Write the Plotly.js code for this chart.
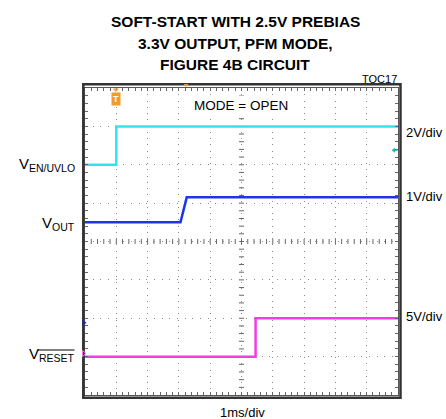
<!DOCTYPE html>
<html>
<head>
<meta charset="utf-8">
<script src="https://cdn.plot.ly/plotly-3.0.1.min.js"></script>
<style>html,body{margin:0;padding:0;background:#fff;}#chart{width:446px;height:419px;}</style>
</head>
<body>
<div id="chart"></div>
<script>
// ---- data (time in ms, levels in volts) ----
const time_en  = [0, 1.0, 1.0, 10];
const v_en     = [0, 0, 2, 2];
const time_out = [0, 3.05, 3.25, 10];
const v_out    = [2.5, 2.5, 3.15, 3.15];
const time_rst = [0, 5.45, 5.45, 10];
const v_rst    = [0, 0, 5, 5];
const channel_labels = ['V<sub>EN/UVLO</sub>', 'V<sub>OUT</sub>', 'V<sub>RESET</sub>'];
const scale_labels   = ['2V/div', '1V/div', '5V/div'];
const volts_per_div  = [2, 1, 5];
const ground_div     = [2, -2, -3];   // channel ground position (divisions from centre)
const title_lines = ['SOFT-START WITH 2.5V PREBIAS', '3.3V OUTPUT, PFM MODE,', 'FIGURE 4B CIRCUIT'];
const time_label = '1ms/div';
const mode_label = 'MODE = OPEN';
const fig_code = 'TOC17';
const trigger_t = 1.0;

// ---- layout helpers (pixel -> paper) ----
const W = 446, H = 419, L = 85, R = 48, T = 88, B = 24;
const PW = W - L - R, PH = H - T - B;
const X = px => (px - L) / PW;
const Y = py => (H - B - py) / PH;
const FONT = 'Liberation Sans, Arial, sans-serif';

const colors = ['#33e3ea', '#1e35e6', '#f43ce4'];
const chRange = i => [(-4 - ground_div[i]) * volts_per_div[i], (4 - ground_div[i]) * volts_per_div[i]];

const traces = [
  {x: time_en,  y: v_en,  yaxis: 'y2', mode: 'lines', line: {color: colors[0], width: 2.5}},
  {x: time_out, y: v_out, yaxis: 'y3', mode: 'lines', line: {color: colors[1], width: 2.5}},
  {x: time_rst, y: v_rst, yaxis: 'y4', mode: 'lines', line: {color: colors[2], width: 2.5}}
];

const tickc = '#666';
const chAxis = i => ({overlaying: 'y', range: chRange(i), visible: false, fixedrange: true});

const ann = [];
title_lines.forEach((t, i) => ann.push({text: '<b>' + t + '</b>', xref: 'paper', yref: 'paper', x: X(235), y: Y([21.5, 43.5, 65][i]),
  xanchor: 'center', yanchor: 'middle', showarrow: false, font: {family: FONT, size: 15.5, color: '#000'}}));
ann.push({text: fig_code, xref: 'paper', yref: 'paper', x: X(398.5), y: Y(79), xanchor: 'right', yanchor: 'middle', showarrow: false,
  font: {family: FONT, size: 11, color: '#000'}});
ann.push({text: mode_label, xref: 'paper', yref: 'paper', x: X(241), y: Y(105.5), xanchor: 'center', yanchor: 'middle', showarrow: false,
  bgcolor: '#fff', borderpad: 2, font: {family: FONT, size: 13.5, color: '#000'}});
[132, 196.5, 316].forEach((py, i) => ann.push({text: scale_labels[i], xref: 'paper', yref: 'paper', x: X(404), y: Y(py),
  xanchor: 'left', yanchor: 'middle', showarrow: false, font: {family: FONT, size: 13, color: '#000'}}));
[164, 223, 354.5].forEach((py, i) => ann.push({text: channel_labels[i], xref: 'paper', yref: 'paper', x: X(77), y: Y(py),
  xanchor: 'right', yanchor: 'middle', showarrow: false, font: {family: FONT, size: 15, color: '#000'}}));
ann.push({text: time_label, xref: 'paper', yref: 'paper', x: X(242.5), y: Y(412), xanchor: 'center', yanchor: 'middle', showarrow: false,
  font: {family: FONT, size: 13, color: '#000'}});
ann.push({text: '<b>T</b>', xref: 'x', yref: 'paper', x: trigger_t, y: Y(98.5), xanchor: 'center', yanchor: 'middle', showarrow: false,
  bgcolor: '#f39a2c', borderpad: 1, font: {family: FONT, size: 9, color: '#fff'}});

const shapes = [
  {type: 'rect', xref: 'paper', yref: 'paper', x0: X(83.3), x1: X(400.5), y0: Y(397.8), y1: Y(84.3), line: {color: '#333', width: 2.5}, layer: 'above'},
  {type: 'path', xref: 'paper', yref: 'paper', path: `M ${X(112.7)},${Y(88.5)} L ${X(119)},${Y(88.5)} L ${X(115.8)},${Y(92)} Z`, fillcolor: '#f39a2c', line: {width: 0}, layer: 'above'},
  {type: 'path', xref: 'paper', yref: 'paper', path: `M ${X(183.5)},${Y(84)} L ${X(188.5)},${Y(84)} L ${X(186)},${Y(87)} Z`, fillcolor: '#f39a2c', line: {width: 0}, layer: 'above'},
  {type: 'path', xref: 'paper', yref: 'paper', path: `M ${X(391.5)},${Y(150.3)} L ${X(395)},${Y(147.8)} L ${X(395)},${Y(152.8)} Z`, fillcolor: '#20b8b8', line: {width: 0}, layer: 'above'},
  {type: 'line', xref: 'paper', yref: 'paper', x0: X(394), x1: X(397.5), y0: Y(150.3), y1: Y(150.3), line: {color: '#20b8b8', width: 1.2}, layer: 'above'},
  {type: 'path', xref: 'paper', yref: 'paper', path: `M ${X(82.5)},${Y(319.5)} L ${X(86.5)},${Y(322.7)} L ${X(82.5)},${Y(326)} Z`, fillcolor: '#1a2a9a', line: {width: 0}, layer: 'above'},
  {type: 'path', xref: 'paper', yref: 'paper', path: `M ${X(82.5)},${Y(350.5)} L ${X(86)},${Y(353.5)} L ${X(82.5)},${Y(356.5)} Z`, fillcolor: 'rgba(0,0,0,0)', line: {color: '#f070e0', width: 1}, layer: 'above'},
  {type: 'line', xref: 'paper', yref: 'paper', x0: X(38), x1: X(74.5), y0: Y(350), y1: Y(350), line: {color: '#000', width: 1}, layer: 'above'}
];
// crosshair minor ticks along the centre lines (every 0.2 div)
for (let k = 1; k < 50; k++) {
  const t = k * 0.2;
  shapes.push({type: 'line', xref: 'x', yref: 'y', x0: t, x1: t, y0: -0.065, y1: 0.065, line: {color: tickc, width: 1}, layer: 'below'});
}
for (let k = 1; k < 40; k++) {
  const d = -4 + k * 0.2;
  shapes.push({type: 'line', xref: 'x', yref: 'y', x0: 4.92, x1: 5.08, y0: d, y1: d, line: {color: tickc, width: 1}, layer: 'below'});
}

const layout = {
  width: W, height: H,
  margin: {l: L, r: R, t: T, b: B, pad: 0},
  paper_bgcolor: '#fff', plot_bgcolor: '#fff',
  showlegend: false, hovermode: false,
  xaxis: {range: [0, 10], tickmode: 'linear', tick0: 0, dtick: 1, showgrid: true, gridcolor: '#8a8a8a', gridwidth: 1, griddash: '1px,5.26px',
    ticks: 'inside', ticklen: 3, tickcolor: tickc, showticklabels: false, zeroline: false, showline: true, linecolor: '#555', linewidth: 1, mirror: 'ticks',
    minor: {tickmode: 'linear', tick0: 0, dtick: 0.2, ticks: 'inside', ticklen: 3, tickcolor: tickc, showgrid: false}, fixedrange: true},
  yaxis: {range: [-4, 4], tickmode: 'linear', tick0: -4, dtick: 1, showgrid: true, gridcolor: '#8a8a8a', gridwidth: 1, griddash: '1px,6.675px',
    ticks: 'inside', ticklen: 3, tickcolor: tickc, showticklabels: false, zeroline: false, showline: true, linecolor: '#555', linewidth: 1, mirror: 'ticks',
    minor: {tickmode: 'linear', tick0: -4, dtick: 0.2, ticks: 'inside', ticklen: 3, tickcolor: tickc, showgrid: false}, fixedrange: true},
  yaxis2: chAxis(0), yaxis3: chAxis(1), yaxis4: chAxis(2),
  annotations: ann, shapes: shapes
};

Plotly.newPlot('chart', traces, layout, {displayModeBar: false, staticPlot: true});
</script>
</body>
</html>
